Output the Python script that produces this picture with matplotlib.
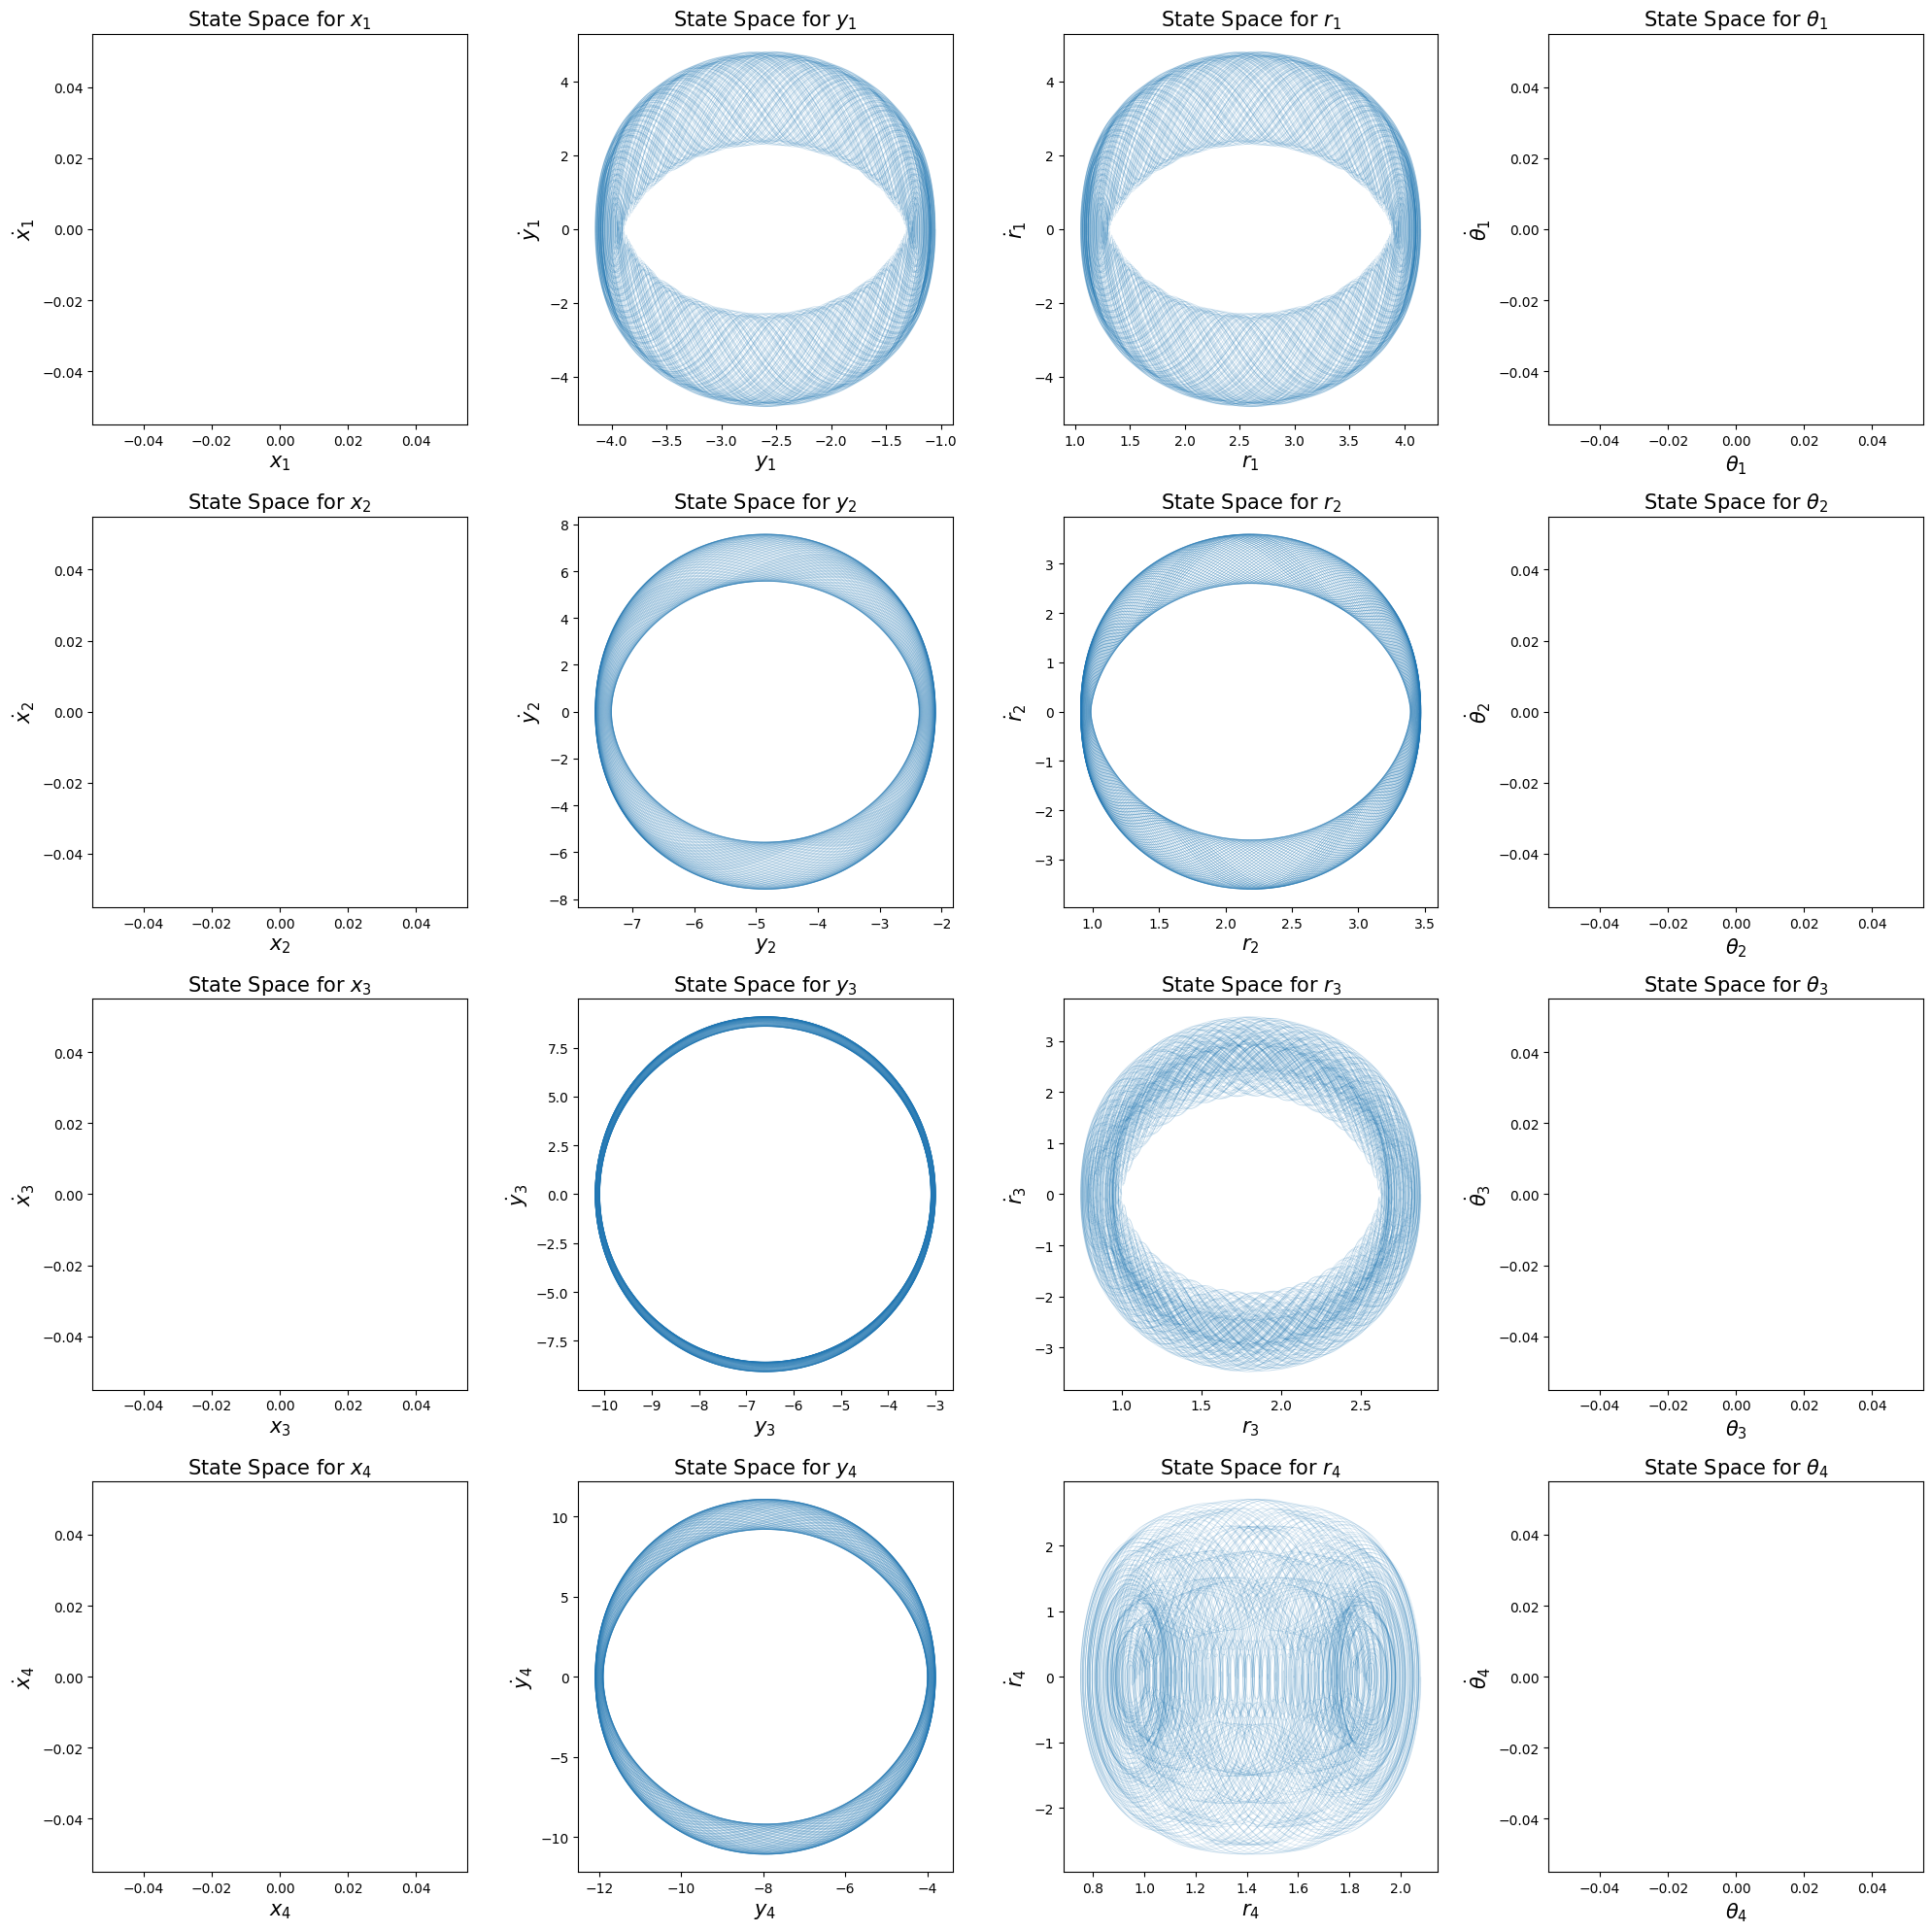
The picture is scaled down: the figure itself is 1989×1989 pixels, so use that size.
import matplotlib
matplotlib.use("Agg")
import matplotlib.pyplot as plt
from matplotlib.collections import LineCollection
import numpy as np

# coordinates per mass, one row per mass (1..4)
coord_names = ['x', 'y', 'r', r'\theta']

# orbit parameters, one entry per mass
# q(t) = center + sum(amp_k * cos(w_k t))
y_center = [-2.6, -4.85, -6.6, -7.95]
y_amps = [[1.425, 0.10, 0.025], [2.62, 0.133], [3.55, 0.05], [4.05, 0.10]]
y_freqs = [[2.49, 12.1, 2.3], [2.51, 7.58], [2.49, 5.02], [2.50, 9.47]]

r_center = [2.6, 2.19, 1.81, 1.415]
r_amps = [[1.425, 0.10, 0.025], [1.24, 0.04], [0.94, 0.102, 0.028], [0.5, 0.1, 0.065]]
r_freqs = [[2.49, 12.1, 2.3], [2.50, 12.55], [2.87, 2.67, 18.08], [2.1, 10.0, 10.37]]

t = np.linspace(0, 400, 200000)


def orbit(c, amps, freqs):
    q = np.full_like(t, c)
    qd = np.zeros_like(t)
    for a, w in zip(amps, freqs):
        q += a * np.cos(w * t)
        qd -= a * w * np.sin(w * t)
    return q, qd


def draw(ax, q, qd):
    # split the trajectory into short pieces so overlaps build up
    pts = np.column_stack([q, qd])
    step = 1200
    segs = [pts[k:k + step + 1] for k in range(0, len(pts), step)]
    lc = LineCollection(segs, colors='#1f77b4', linewidths=0.5, alpha=0.18)
    ax.add_collection(lc)
    ax.autoscale_view()


fig, axes = plt.subplots(4, 4, figsize=(19.89, 19.90))

for i in range(4):
    n = i + 1
    for j, name in enumerate(coord_names):
        ax = axes[i, j]
        if name == 'y':
            q, qd = orbit(y_center[i], y_amps[i], y_freqs[i])
            draw(ax, q, qd)
        elif name == 'r':
            q, qd = orbit(r_center[i], r_amps[i], r_freqs[i])
            draw(ax, q, qd)
        else:
            # x and theta stay at zero the whole time
            ax.plot(np.zeros(50), np.zeros(50), color='#1f77b4', lw=0.5, alpha=0.2)
        ax.set_title(rf'State Space for ${name}_{n}$', fontsize=15)
        ax.set_xlabel(rf'${name}_{n}$', fontsize=15)
        ax.set_ylabel(rf'$\dot{{{name}}}_{n}$', fontsize=15)

plt.subplots_adjust(left=0.048, right=0.9955, top=0.982, bottom=0.031,
                    wspace=0.296, hspace=0.235)
plt.savefig('out.png', dpi=100)
